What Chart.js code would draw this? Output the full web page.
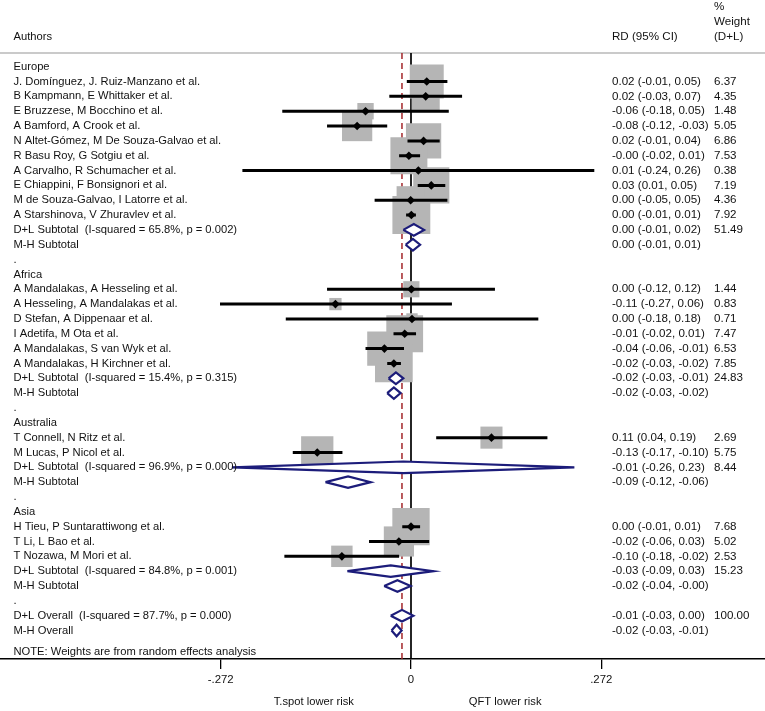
<!DOCTYPE html>
<html><head><meta charset="utf-8">
<script src="https://cdn.jsdelivr.net/npm/chart.js@4.4.1/dist/chart.umd.min.js"></script>
<style>html,body{margin:0;padding:0;background:#fff;}#wrap{width:765px;height:711px;}</style>
</head><body><div id="wrap"><canvas id="c" width="765" height="711" style="width:765px;height:711px"></canvas></div>
<script>
// ---------------- DATA ----------------
const groupNames = ["Europe", "Africa", "Australia", "Asia"];
const studyAuthors = [
  "J. Domínguez, J. Ruiz-Manzano et al.",
  "B Kampmann, E Whittaker et al.",
  "E Bruzzese, M Bocchino et al.",
  "A Bamford, A Crook et al.",
  "N Altet-Gómez, M De Souza-Galvao et al.",
  "R Basu Roy, G Sotgiu et al.",
  "A Carvalho, R Schumacher et al.",
  "E Chiappini, F Bonsignori et al.",
  "M de Souza-Galvao, I Latorre et al.",
  "A Starshinova, V Zhuravlev et al.",
  "A Mandalakas, A Hesseling et al.",
  "A Hesseling, A Mandalakas et al.",
  "D Stefan, A Dippenaar et al.",
  "I Adetifa, M Ota et al.",
  "A Mandalakas, S van Wyk et al.",
  "A Mandalakas, H Kirchner et al.",
  "T Connell, N Ritz et al.",
  "M Lucas, P Nicol et al.",
  "H Tieu, P Suntarattiwong et al.",
  "T Li, L Bao et al.",
  "T Nozawa, M Mori et al."
];
const studyGroup  = [0,0,0,0,0,0,0,0,0,0, 1,1,1,1,1,1, 2,2, 3,3,3];
const studyRD     = [0.0225, 0.021, -0.065, -0.077, 0.018, -0.003, 0.0105, 0.029, -0.0005, 0.0005,
                     0.0005, -0.108, 0.0014, -0.009, -0.038, -0.0245,
                     0.115, -0.134,
                     0.000, -0.0173, -0.0988];
const studyLow    = [-0.006, -0.031, -0.184, -0.120, -0.005, -0.017, -0.241, 0.0096, -0.052, -0.007,
                     -0.120, -0.273, -0.179, -0.025, -0.065, -0.034,
                     0.036, -0.169,
                     -0.0125, -0.060, -0.181];
const studyHigh   = [0.052, 0.073, 0.054, -0.034, 0.041, 0.013, 0.262, 0.049, 0.052, 0.007,
                     0.120, 0.0585, 0.182, 0.0072, -0.010, -0.0144,
                     0.195, -0.098,
                     0.013, 0.026, -0.017];
const studyWeight = [6.37, 4.35, 1.48, 5.05, 6.86, 7.53, 0.38, 7.19, 4.36, 7.92,
                     1.44, 0.83, 0.71, 7.47, 6.53, 7.85,
                     2.69, 5.75,
                     7.68, 5.02, 2.53];
const studyCI = [
  "0.02 (-0.01, 0.05)", "0.02 (-0.03, 0.07)", "-0.06 (-0.18, 0.05)", "-0.08 (-0.12, -0.03)",
  "0.02 (-0.01, 0.04)", "-0.00 (-0.02, 0.01)", "0.01 (-0.24, 0.26)", "0.03 (0.01, 0.05)",
  "0.00 (-0.05, 0.05)", "0.00 (-0.01, 0.01)",
  "0.00 (-0.12, 0.12)", "-0.11 (-0.27, 0.06)", "0.00 (-0.18, 0.18)", "-0.01 (-0.02, 0.01)",
  "-0.04 (-0.06, -0.01)", "-0.02 (-0.03, -0.02)",
  "0.11 (0.04, 0.19)", "-0.13 (-0.17, -0.10)",
  "0.00 (-0.01, 0.01)", "-0.02 (-0.06, 0.03)", "-0.10 (-0.18, -0.02)"
];
const studyWeightText = ["6.37","4.35","1.48","5.05","6.86","7.53","0.38","7.19","4.36","7.92",
                         "1.44","0.83","0.71","7.47","6.53","7.85","2.69","5.75","7.68","5.02","2.53"];

const dlISquared = ["65.8%", "15.4%", "96.9%", "84.8%"];
const dlP        = ["0.002", "0.315", "0.000", "0.001"];
const dlRD       = [0.004, -0.0216, -0.011, -0.029];
const dlLow      = [-0.011, -0.032, -0.256, -0.091];
const dlHigh     = [0.0187, -0.011, 0.2335, 0.032];
const dlCI       = ["0.00 (-0.01, 0.02)", "-0.02 (-0.03, -0.01)", "-0.01 (-0.26, 0.23)", "-0.03 (-0.09, 0.03)"];
const dlWeight   = ["51.49", "24.83", "8.44", "15.23"];

const mhRD   = [0.0027, -0.0245, -0.090, -0.0194];
const mhLow  = [-0.0077, -0.034, -0.1223, -0.0384];
const mhHigh = [0.013, -0.0148, -0.0576, -0.0005];
const mhCI   = ["0.00 (-0.01, 0.01)", "-0.02 (-0.03, -0.02)", "-0.09 (-0.12, -0.06)", "-0.02 (-0.04, -0.00)"];

const overallDL = {rd: -0.0129, low: -0.029, high: 0.0034, i2: "87.7%", p: "0.000", ci: "-0.01 (-0.03, 0.00)", w: "100.00"};
const overallMH = {rd: -0.0206, low: -0.0278, high: -0.0134, ci: "-0.02 (-0.03, -0.01)"};

const tickValues = [-0.272, 0, 0.272];
const tickLabels = ["-.272", "0", ".272"];
const favourLabels = ["T.spot lower risk", "QFT lower risk"];
const noteText = "NOTE: Weights are from random effects analysis";

// ---------------- ROW LAYOUT ----------------
let r = 0;
const textRows = [];
const studyRow = [], dlRow = [], mhRow = [];
groupNames.forEach((g, gi) => {
  textRows.push({row: r++, text: g});
  studyGroup.forEach((sg, si) => {
    if (sg === gi) { studyRow[si] = r; textRows.push({row: r, text: studyAuthors[si], ci: studyCI[si], w: studyWeightText[si]}); r++; }
  });
  dlRow[gi] = r; textRows.push({row: r++, text: "D+L Subtotal  (I-squared = " + dlISquared[gi] + ", p = " + dlP[gi] + ")", ci: dlCI[gi], w: dlWeight[gi]});
  mhRow[gi] = r; textRows.push({row: r++, text: "M-H Subtotal", ci: mhCI[gi]});
  textRows.push({row: r++, text: "."});
});
const overallDLRow = r++;
textRows.push({row: overallDLRow, text: "D+L Overall  (I-squared = " + overallDL.i2 + ", p = " + overallDL.p + ")", ci: overallDL.ci, w: overallDL.w});
const overallMHRow = r;
textRows.push({row: overallMHRow, text: "M-H Overall", ci: overallMH.ci});
const noteRow = overallMHRow + 1.45;

const Y_MIN = -0.923, Y_MAX = 39.92;
const DIAMOND_H = 0.39;
const FONT = "11.2px 'Liberation Sans', Arial, sans-serif";
const NUM_FONT = "11.6px 'Liberation Sans', Arial, sans-serif";
const PX_PER_UNIT = 699.6;

// ---------------- DATASETS ----------------
const lineDS = (data, color, width, dash, order) => ({
  type: 'scatter', data, showLine: true, borderColor: color, borderWidth: width,
  borderDash: dash, pointRadius: 0, fill: false, order, borderCapStyle: 'butt'
});

const datasets = [];
datasets.push(lineDS([{x: 0, y: Y_MIN}, {x: 0, y: Y_MAX}], '#000', 1.7, [], 10));
datasets.push(lineDS([{x: overallDL.rd, y: Y_MIN}, {x: overallDL.rd, y: Y_MAX}], '#a3262a', 1.5, [6, 4], 9));

datasets.push({
  type: 'scatter', order: 8,
  data: studyRD.map((v, i) => ({x: v, y: studyRow[i]})),
  pointStyle: 'rect', backgroundColor: '#b5b5b5', borderWidth: 0,
  pointRadius: ctx => 9.52 * Math.sqrt(studyWeight[ctx.dataIndex] || 0)
});

const ciData = [];
studyRD.forEach((v, i) => {
  ciData.push({x: studyLow[i], y: studyRow[i]}, {x: studyHigh[i], y: studyRow[i]}, {x: null, y: null});
});
const ciDS = lineDS(ciData, '#000', 3, [], 7);
ciDS.spanGaps = false;
datasets.push(ciDS);

datasets.push({
  type: 'scatter', order: 6,
  data: studyRD.map((v, i) => ({x: v, y: studyRow[i]})),
  pointStyle: 'rectRot', backgroundColor: '#000', borderWidth: 0, pointRadius: 4.3
});

function diamond(c, lo, hi, row) {
  return {
    type: 'scatter', order: 5, showLine: true,
    data: [{x: lo, y: row}, {x: c, y: row - DIAMOND_H}, {x: hi, y: row}, {x: c, y: row + DIAMOND_H}, {x: lo, y: row}],
    borderColor: '#1c1c7a', borderWidth: 2.2, backgroundColor: '#ffffff', fill: 'shape',
    pointRadius: 0, tension: 0, borderJoinStyle: 'miter'
  };
}
groupNames.forEach((g, gi) => {
  datasets.push(diamond(dlRD[gi], dlLow[gi], dlHigh[gi], dlRow[gi]));
  datasets.push(diamond(mhRD[gi], mhLow[gi], mhHigh[gi], mhRow[gi]));
});
datasets.push(diamond(overallDL.rd, overallDL.low, overallDL.high, overallDLRow));
datasets.push(diamond(overallMH.rd, overallMH.low, overallMH.high, overallMHRow));

// ---------------- TEXT PLUGIN ----------------
const textPlugin = {
  id: 'forestText',
  beforeDatasetsDraw(chart) {
    const {ctx, chartArea} = chart;
    ctx.save();
    ctx.strokeStyle = '#b8b8b8';
    ctx.lineWidth = 1.6;
    ctx.beginPath();
    ctx.moveTo(0, chartArea.top);
    ctx.lineTo(chart.width, chartArea.top);
    ctx.stroke();
    ctx.restore();
  },
  afterDatasetsDraw(chart) {
    const {ctx, scales: {x, y}} = chart;
    ctx.save();
    ctx.fillStyle = '#111';
    ctx.textBaseline = 'middle';
    ctx.textAlign = 'left';
    const LX = 13.5, CX = 612, WX = 714;
    ctx.font = FONT;
    ctx.fillText("Authors", LX, 37);
    ctx.font = NUM_FONT;
    ctx.fillText("RD (95% CI)", CX, 37);
    ctx.fillText("%", WX, 7);
    ctx.fillText("Weight", WX, 22);
    ctx.fillText("(D+L)", WX, 37);
    textRows.forEach(t => {
      const py = y.getPixelForValue(t.row);
      ctx.font = FONT;
      ctx.fillText(t.text, LX, py);
      ctx.font = NUM_FONT;
      if (t.ci) ctx.fillText(t.ci, CX, py);
      if (t.w) ctx.fillText(t.w, WX, py);
    });
    ctx.font = FONT;
    ctx.fillText(noteText, LX, y.getPixelForValue(noteRow));
    ctx.textAlign = 'center';
    ctx.fillText(favourLabels[0], x.getPixelForValue(tickValues[0] / 2) - 2, 702);
    ctx.fillText(favourLabels[1], x.getPixelForValue(tickValues[2] / 2) - 1, 702);
    ctx.restore();
  }
};

Chart.defaults.font.family = "'Liberation Sans', Arial, sans-serif";
Chart.defaults.font.size = 11.4;
Chart.defaults.color = '#111';

new Chart(document.getElementById('c'), {
  type: 'scatter',
  data: {datasets},
  options: {
    responsive: false,
    animation: false,
    devicePixelRatio: 1,
    layout: {autoPadding: false, padding: {top: 53, left: 0, right: 0, bottom: 0}},
    plugins: {legend: {display: false}, tooltip: {enabled: false}},
    scales: {
      x: {
        type: 'linear', position: 'bottom',
        min: -411 / PX_PER_UNIT, max: 354 / PX_PER_UNIT,
        afterBuildTicks: s => { s.ticks = tickValues.map(v => ({value: v})); },
        afterFit: s => { s.height = 52; s.paddingLeft = 0; s.paddingRight = 0; },
        ticks: {
          autoSkip: false, maxRotation: 0, padding: 4, color: '#111',
          callback: (v) => { const i = tickValues.indexOf(v); return i >= 0 ? tickLabels[i] : ''; }
        },
        grid: {drawOnChartArea: false, drawTicks: true, tickLength: 10, color: '#000', tickColor: '#000', lineWidth: 1.3},
        border: {display: true, color: '#000', width: 1.5}
      },
      y: {
        type: 'linear', reverse: true, min: Y_MIN, max: Y_MAX, display: false
      }
    }
  },
  plugins: [textPlugin]
});
</script></body></html>
